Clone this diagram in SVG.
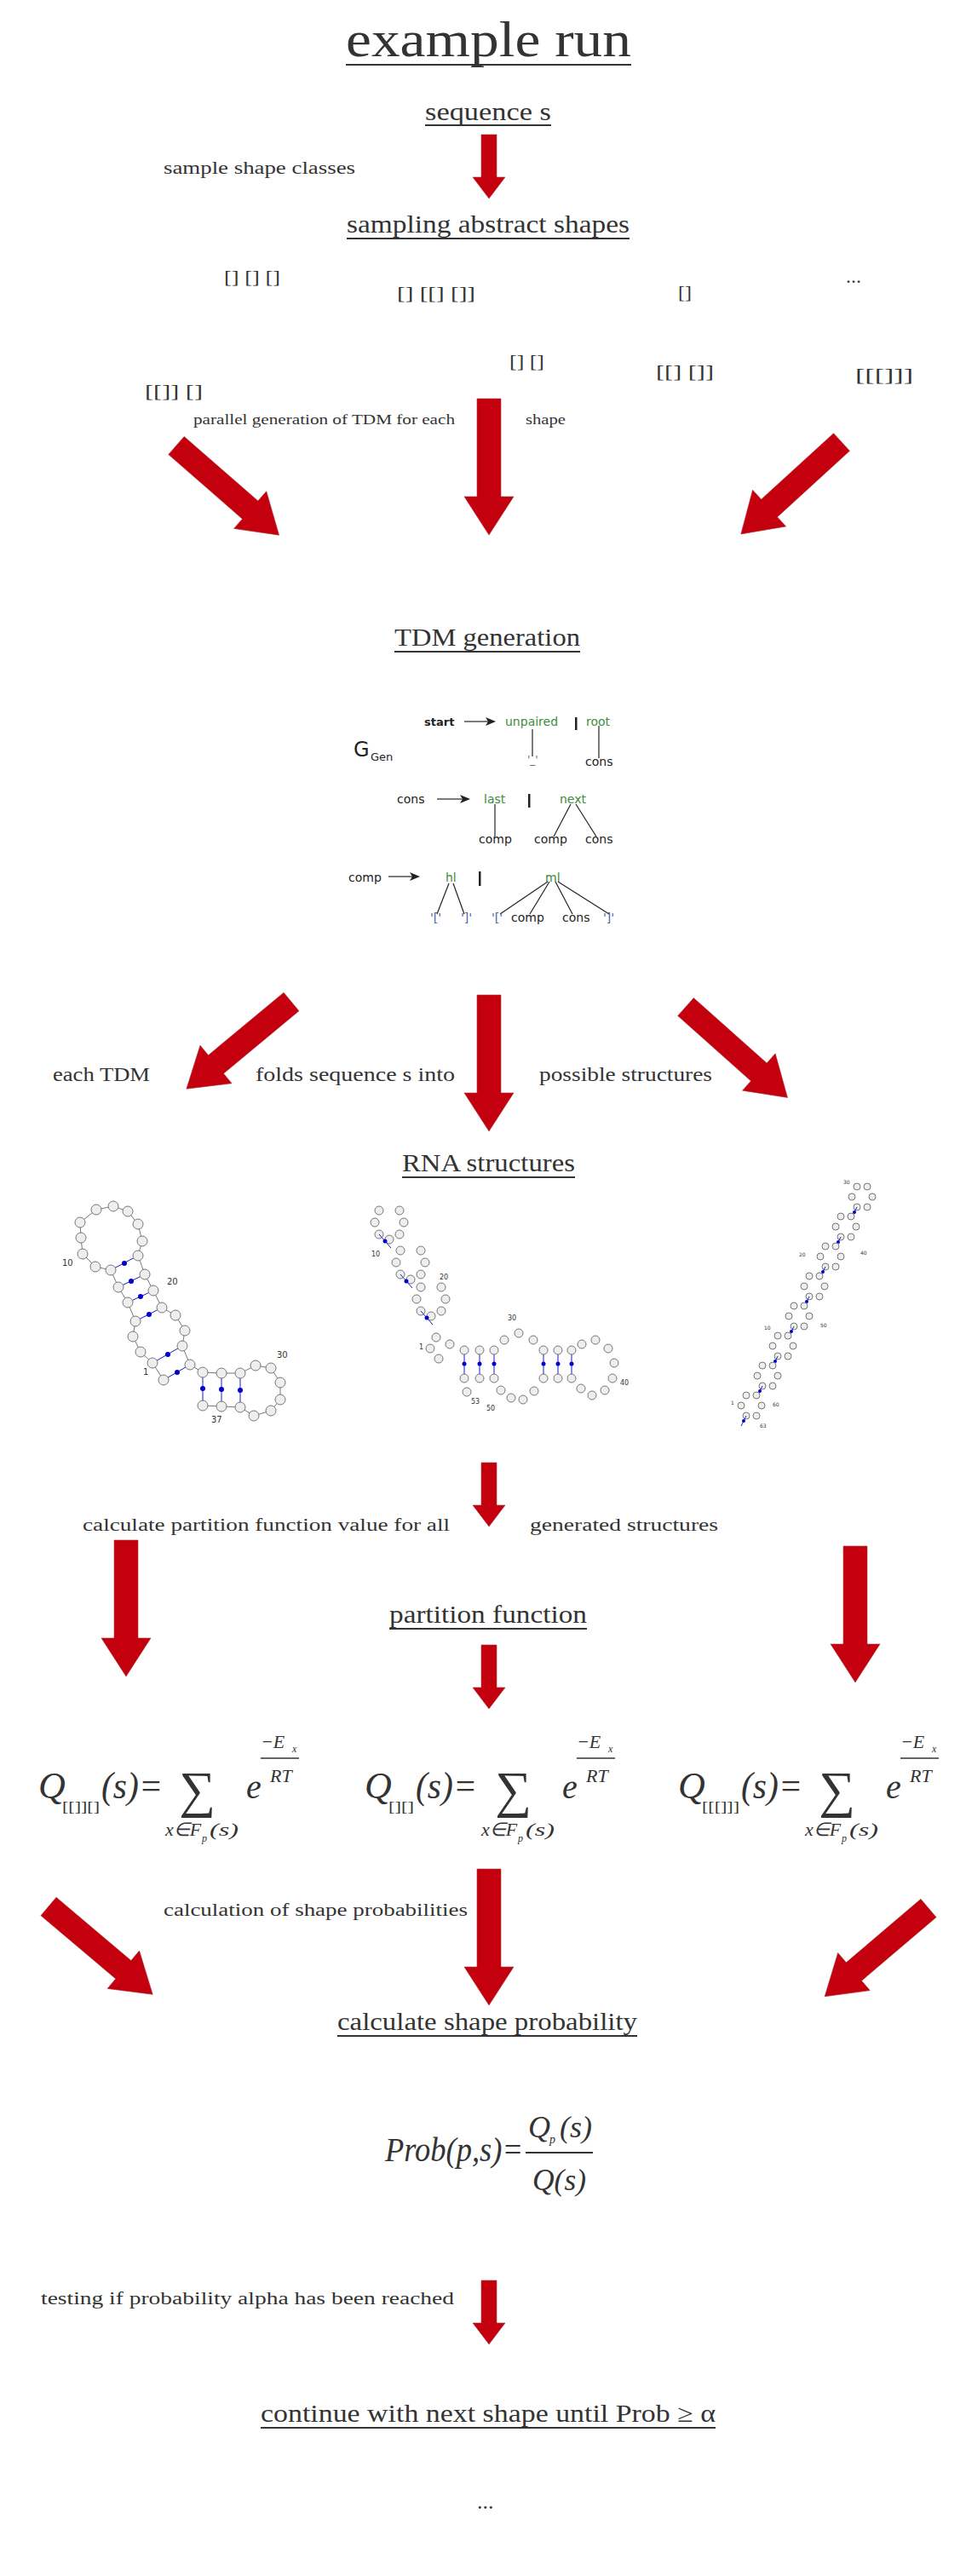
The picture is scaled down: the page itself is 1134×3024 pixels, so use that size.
<svg xmlns="http://www.w3.org/2000/svg" xmlns:xlink="http://www.w3.org/1999/xlink" width="1134" height="3024" viewBox="0 0 1134 3024">
<style>
.t{font-family:"Liberation Serif",serif;fill:#333}
.h{font-size:29px}
.s{font-size:20px}
.m{font-family:"Liberation Serif",serif;font-style:italic;fill:#333}
.ul{stroke:#333;stroke-width:2}
.ar{fill:#c4000f;stroke:#a33;stroke-width:0.6}
.g{font-family:"DejaVu Sans",sans-serif;font-size:14px;fill:#222}
.gr{fill:#3c8c3c}
.bl{fill:#5563a3}
.gl{stroke:#222;stroke-width:1.2}
.nt{fill:#eee;stroke:#777;stroke-width:1}
.bp{stroke:#1a1acc;stroke-width:1}
.bd{fill:#0000cc}
.lb{font-family:"DejaVu Sans",sans-serif;fill:#333}
</style>
<defs>
<polygon id="big" points="0,-14 115,-14 115,-29 160,0 115,29 115,14 0,14"/>
<polygon id="sm" points="0,-9 50,-9 50,-19 75,0 50,19 50,9 0,9"/>
<g id="loopR"><circle class="nt" cx="12" cy="0" r="4"/><circle class="nt" cx="6" cy="12" r="4"/><circle class="nt" cx="-6" cy="12" r="4"/><circle class="nt" cx="-12" cy="0" r="4"/><circle class="nt" cx="-6" cy="-12" r="4"/><circle class="nt" cx="6" cy="-12" r="4"/><line class="bp" x1="-6" y1="12" x2="-12" y2="24"/><circle class="bd" cx="-9" cy="18" r="2"/></g>
<g id="loopM"><circle class="nt" cx="17" cy="0" r="5"/><circle class="nt" cx="12" cy="14" r="5"/><circle class="nt" cx="0" cy="20" r="5"/><circle class="nt" cx="-12" cy="14" r="5"/><circle class="nt" cx="-17" cy="0" r="5"/><circle class="nt" cx="-12" cy="-14" r="5"/><circle class="nt" cx="12" cy="-14" r="5"/><line class="bp" x1="-12" y1="14" x2="2" y2="30"/><circle class="bd" cx="-5" cy="22" r="2.5"/></g>
<g id="fx">
<text class="m" x="0" y="2155" font-size="22" textLength="42" lengthAdjust="spacingAndGlyphs">x∈F</text>
<text class="m" x="43" y="2162" font-size="12">p</text>
<text class="m" x="52" y="2155" font-size="22" textLength="34" lengthAdjust="spacingAndGlyphs">(s)</text>
</g>
<g id="ex">
<text class="m" x="0" y="2052" font-size="22">−E</text><text class="m" x="37" y="2057" font-size="12">x</text>
<line x1="0" y1="2064" x2="45" y2="2064" stroke="#333" stroke-width="1.5"/>
<text class="m" x="11" y="2092" font-size="22">RT</text>
</g>
</defs>

<g id="title">
<text class="t" x="406" y="66" font-size="60" textLength="335" lengthAdjust="spacingAndGlyphs">example run</text>
<line class="ul" x1="406" y1="76" x2="741" y2="76" stroke-width="3"/>
</g>
<g id="seq">
<text class="t h" x="499" y="141" textLength="148" lengthAdjust="spacingAndGlyphs">sequence s</text>
<line class="ul" x1="499" y1="147" x2="647" y2="147"/>
</g>
<text class="t s" x="192" y="204" textLength="225" lengthAdjust="spacingAndGlyphs">sample shape classes</text>
<g id="sampling">
<text class="t h" x="407" y="273" textLength="332" lengthAdjust="spacingAndGlyphs">sampling abstract shapes</text>
<line class="ul" x1="407" y1="280" x2="739" y2="280"/>
</g>
<g id="shapes" class="t" font-size="20">
<text x="263" y="332" textLength="66" lengthAdjust="spacingAndGlyphs">[] [] []</text>
<text x="466" y="351" textLength="92" lengthAdjust="spacingAndGlyphs">[] [[] []]</text>
<text x="796" y="350" textLength="16" lengthAdjust="spacingAndGlyphs">[]</text>
<text x="993" y="332" font-size="24">...</text>
<text x="598" y="431" textLength="41" lengthAdjust="spacingAndGlyphs">[] []</text>
<text x="770" y="443" textLength="68" lengthAdjust="spacingAndGlyphs">[[] []]</text>
<text x="1004" y="447" textLength="68" lengthAdjust="spacingAndGlyphs">[[[]]]</text>
<text x="170" y="466" textLength="68" lengthAdjust="spacingAndGlyphs">[[]] []</text>
</g>
<text class="t" font-size="17" x="227" y="498" textLength="307" lengthAdjust="spacingAndGlyphs">parallel generation of TDM for each</text>
<text class="t" font-size="17" x="617" y="498" textLength="47" lengthAdjust="spacingAndGlyphs">shape</text>

<g id="tdm">
<text class="t h" x="463" y="758" textLength="218" lengthAdjust="spacingAndGlyphs">TDM generation</text>
<line class="ul" x1="463" y1="765" x2="681" y2="765"/>
</g>
<g id="grammar" class="g">
<text x="415" y="888" font-size="24">G</text><text x="435" y="893" font-size="13">Gen</text>
<text x="498" y="852" font-weight="bold" font-size="13">start</text>
<line class="gl" x1="545" y1="847" x2="575" y2="847"/><polygon points="582,847 570,842 573,847 570,852" fill="#222"/>
<text class="gr" x="593" y="852">unpaired</text>
<rect x="675" y="842" width="2.5" height="15" fill="#222"/>
<text class="gr" x="688" y="852">root</text>
<line class="gl" x1="625" y1="856" x2="625" y2="888"/>
<text class="bl" x="619" y="896" font-size="12">'_'</text>
<line class="gl" x1="703" y1="852" x2="703" y2="890"/>
<text x="687" y="899">cons</text>
<text x="466" y="943">cons</text>
<line class="gl" x1="513" y1="938" x2="545" y2="938"/><polygon points="552,938 540,933 543,938 540,943" fill="#222"/>
<text class="gr" x="568" y="943">last</text>
<rect x="620" y="932" width="2.5" height="16" fill="#222"/>
<text class="gr" x="657" y="943">next</text>
<line class="gl" x1="581" y1="944" x2="581" y2="982"/>
<line class="gl" x1="670" y1="944" x2="650" y2="982"/>
<line class="gl" x1="676" y1="944" x2="700" y2="982"/>
<text x="562" y="990">comp</text><text x="627" y="990">comp</text><text x="687" y="990">cons</text>
<text x="409" y="1035">comp</text>
<line class="gl" x1="456" y1="1029" x2="486" y2="1029"/><polygon points="493,1029 481,1024 484,1029 481,1034" fill="#222"/>
<text class="gr" x="523" y="1035">hl</text>
<rect x="562" y="1023" width="2.5" height="17" fill="#222"/>
<text class="gr" x="640" y="1035">ml</text>
<line class="gl" x1="527" y1="1037" x2="513" y2="1073"/>
<line class="gl" x1="532" y1="1037" x2="545" y2="1073"/>
<line class="gl" x1="643" y1="1035" x2="587" y2="1073"/>
<line class="gl" x1="645" y1="1035" x2="622" y2="1073"/>
<line class="gl" x1="652" y1="1035" x2="672" y2="1073"/>
<line class="gl" x1="655" y1="1035" x2="715" y2="1073"/>
<text class="bl" x="505" y="1082">'['</text><text class="bl" x="541" y="1082">']'</text>
<text class="bl" x="577" y="1082">'['</text><text x="600" y="1082">comp</text><text x="660" y="1082">cons</text><text class="bl" x="708" y="1082">']'</text>
</g>

<g class="t" font-size="24">
<text x="62" y="1269" textLength="114" lengthAdjust="spacingAndGlyphs">each TDM</text>
<text x="300" y="1269" textLength="234" lengthAdjust="spacingAndGlyphs">folds sequence s  into</text>
<text x="633" y="1269" textLength="203" lengthAdjust="spacingAndGlyphs">possible  structures</text>
</g>
<g id="rna">
<text class="t h" x="472" y="1375" textLength="203" lengthAdjust="spacingAndGlyphs">RNA structures</text>
<line class="ul" x1="472" y1="1382" x2="675" y2="1382"/>
</g>

<g id="rna-left">
<polyline fill="none" stroke="#777" points="130,1491 112,1487 97,1472 95,1453 94,1435 113,1420 133,1416 150,1422 162,1437 167,1457 162,1474 170,1496 180,1515 190,1535 206,1544 217,1562 214,1580 223,1602 238,1611 260,1612 282,1612 300,1603 318,1606 329,1623 329,1643 318,1656 298,1662 282,1652 260,1651 238,1650"/>
<polyline fill="none" stroke="#777" points="130,1491 139,1511 150,1529 159,1551 156,1569 165,1587 179,1600 192,1620"/>
<g class="bp"><line x1="130" y1="1491" x2="162" y2="1474"/><line x1="139" y1="1511" x2="170" y2="1496"/><line x1="150" y1="1529" x2="180" y2="1515"/><line x1="159" y1="1551" x2="190" y2="1535"/><line x1="179" y1="1600" x2="214" y2="1580"/><line x1="192" y1="1620" x2="223" y2="1602"/><line x1="238" y1="1611" x2="238" y2="1650"/><line x1="260" y1="1612" x2="260" y2="1651"/><line x1="282" y1="1612" x2="282" y2="1652"/></g>
<g class="bd"><circle cx="146" cy="1483" r="3"/><circle cx="154" cy="1504" r="3"/><circle cx="165" cy="1522" r="3"/><circle cx="175" cy="1543" r="3"/><circle cx="197" cy="1590" r="3"/><circle cx="208" cy="1611" r="3"/><circle cx="238" cy="1630" r="3"/><circle cx="260" cy="1631" r="3"/><circle cx="282" cy="1632" r="3"/></g>
<g class="nt">
<circle cx="113" cy="1420" r="6"/><circle cx="133" cy="1416" r="6"/><circle cx="150" cy="1422" r="6"/><circle cx="162" cy="1437" r="6"/><circle cx="167" cy="1457" r="6"/><circle cx="162" cy="1474" r="6"/><circle cx="94" cy="1435" r="6"/><circle cx="95" cy="1453" r="6"/><circle cx="97" cy="1472" r="6"/><circle cx="112" cy="1487" r="6"/>
<circle cx="130" cy="1491" r="6"/><circle cx="139" cy="1511" r="6"/><circle cx="150" cy="1529" r="6"/><circle cx="159" cy="1551" r="6"/>
<circle cx="170" cy="1496" r="6"/><circle cx="180" cy="1515" r="6"/><circle cx="190" cy="1535" r="6"/>
<circle cx="206" cy="1544" r="6"/><circle cx="217" cy="1562" r="6"/><circle cx="214" cy="1580" r="6"/><circle cx="156" cy="1569" r="6"/><circle cx="165" cy="1587" r="6"/>
<circle cx="179" cy="1600" r="6"/><circle cx="192" cy="1620" r="6"/><circle cx="223" cy="1602" r="6"/>
<circle cx="238" cy="1611" r="6"/><circle cx="260" cy="1612" r="6"/><circle cx="282" cy="1612" r="6"/><circle cx="300" cy="1603" r="6"/><circle cx="318" cy="1606" r="6"/><circle cx="329" cy="1623" r="6"/><circle cx="329" cy="1643" r="6"/><circle cx="318" cy="1656" r="6"/><circle cx="298" cy="1662" r="6"/><circle cx="282" cy="1652" r="6"/><circle cx="260" cy="1651" r="6"/><circle cx="238" cy="1650" r="6"/>
</g>
<g class="lb" font-size="10"><text x="73" y="1486">10</text><text x="196" y="1508">20</text><text x="325" y="1594">30</text><text x="248" y="1670">37</text><text x="168" y="1614">1</text></g>
</g>

<g id="rna-mid">
<use xlink:href="#loopM" x="457" y="1435"/>
<use xlink:href="#loopM" x="482" y="1482"/>
<use xlink:href="#loopM" x="506" y="1525"/>
<g class="bp"><line x1="545" y1="1585" x2="545" y2="1618"/><line x1="563" y1="1585" x2="563" y2="1618"/><line x1="580" y1="1585" x2="580" y2="1618"/><line x1="638" y1="1585" x2="638" y2="1618"/><line x1="655" y1="1585" x2="655" y2="1618"/><line x1="671" y1="1585" x2="671" y2="1618"/></g>
<g class="bd"><circle cx="545" cy="1601" r="2.5"/><circle cx="563" cy="1601" r="2.5"/><circle cx="580" cy="1601" r="2.5"/><circle cx="638" cy="1601" r="2.5"/><circle cx="655" cy="1601" r="2.5"/><circle cx="671" cy="1601" r="2.5"/></g>
<g class="nt">
<circle cx="512" cy="1570" r="5"/><circle cx="528" cy="1578" r="5"/><circle cx="505" cy="1583" r="5"/><circle cx="515" cy="1595" r="5"/>
<circle cx="545" cy="1585" r="5"/><circle cx="563" cy="1585" r="5"/><circle cx="580" cy="1585" r="5"/><circle cx="545" cy="1618" r="5"/><circle cx="563" cy="1618" r="5"/><circle cx="580" cy="1618" r="5"/><circle cx="548" cy="1634" r="5"/>
<circle cx="592" cy="1573" r="5"/><circle cx="609" cy="1565" r="5"/><circle cx="626" cy="1573" r="5"/><circle cx="588" cy="1632" r="5"/><circle cx="600" cy="1641" r="5"/><circle cx="614" cy="1643" r="5"/><circle cx="627" cy="1633" r="5"/>
<circle cx="638" cy="1585" r="5"/><circle cx="655" cy="1585" r="5"/><circle cx="671" cy="1585" r="5"/><circle cx="638" cy="1618" r="5"/><circle cx="655" cy="1618" r="5"/><circle cx="671" cy="1618" r="5"/>
<circle cx="683" cy="1578" r="5"/><circle cx="699" cy="1573" r="5"/><circle cx="714" cy="1583" r="5"/><circle cx="721" cy="1600" r="5"/><circle cx="719" cy="1618" r="5"/><circle cx="710" cy="1632" r="5"/><circle cx="695" cy="1638" r="5"/><circle cx="682" cy="1630" r="5"/>
</g>
<g class="lb" font-size="8"><text x="436" y="1475">10</text><text x="516" y="1502">20</text><text x="492" y="1584">1</text><text x="596" y="1550">30</text><text x="553" y="1648">53</text><text x="571" y="1656">50</text><text x="728" y="1626">40</text></g>
</g>

<g id="rna-right">
<use xlink:href="#loopR" x="1012" y="1405"/>
<use xlink:href="#loopR" x="993" y="1440"/>
<use xlink:href="#loopR" x="975" y="1475"/>
<use xlink:href="#loopR" x="956" y="1510"/>
<use xlink:href="#loopR" x="938" y="1545"/>
<use xlink:href="#loopR" x="919" y="1580"/>
<use xlink:href="#loopR" x="901" y="1615"/>
<use xlink:href="#loopR" x="882" y="1650"/>
<g class="lb" font-size="6"><text x="990" y="1390">30</text><text x="1010" y="1473">40</text><text x="938" y="1475">20</text><text x="963" y="1558">50</text><text x="897" y="1561">10</text><text x="858" y="1649">1</text><text x="907" y="1651">60</text><text x="892" y="1676">63</text></g>
</g>

<g class="t" font-size="20">
<text x="97" y="1797" textLength="431" lengthAdjust="spacingAndGlyphs">calculate partition function value for all</text>
<text x="622" y="1797" textLength="221" lengthAdjust="spacingAndGlyphs">generated structures</text>
</g>
<g id="partition">
<text class="t h" x="457" y="1905" textLength="232" lengthAdjust="spacingAndGlyphs">partition function</text>
<line class="ul" x1="457" y1="1912" x2="689" y2="1912"/>
</g>

<g id="formula1" class="m">
<text x="45" y="2111" font-size="44">Q</text>
<text x="73" y="2127" font-size="17" font-style="normal" textLength="44" lengthAdjust="spacingAndGlyphs">[[]][]</text>
<text x="119" y="2111" font-size="44" textLength="72" lengthAdjust="spacingAndGlyphs">(s)=</text>
<text x="210" y="2121" font-size="60" font-style="normal">∑</text>
<text x="289" y="2111" font-size="40">e</text>
<use xlink:href="#ex" x="306"/>
<use xlink:href="#fx" x="194"/>
</g>
<g id="formula2" class="m">
<text x="428" y="2111" font-size="44">Q</text>
<text x="456" y="2127" font-size="17" font-style="normal" textLength="30" lengthAdjust="spacingAndGlyphs">[][]</text>
<text x="488" y="2111" font-size="44" textLength="72" lengthAdjust="spacingAndGlyphs">(s)=</text>
<text x="581" y="2121" font-size="60" font-style="normal">∑</text>
<text x="660" y="2111" font-size="40">e</text>
<use xlink:href="#ex" x="677"/>
<use xlink:href="#fx" x="565"/>
</g>
<g id="formula3" class="m">
<text x="796" y="2111" font-size="44">Q</text>
<text x="824" y="2127" font-size="17" font-style="normal" textLength="44" lengthAdjust="spacingAndGlyphs">[[[]]]</text>
<text x="870" y="2111" font-size="44" textLength="72" lengthAdjust="spacingAndGlyphs">(s)=</text>
<text x="961" y="2121" font-size="60" font-style="normal">∑</text>
<text x="1040" y="2111" font-size="40">e</text>
<use xlink:href="#ex" x="1057"/>
<use xlink:href="#fx" x="945"/>
</g>

<text class="t" font-size="20" x="192" y="2249" textLength="357" lengthAdjust="spacingAndGlyphs">calculation of shape probabilities</text>
<g id="calcprob">
<text class="t h" x="396" y="2383" textLength="352" lengthAdjust="spacingAndGlyphs">calculate shape probability</text>
<line class="ul" x1="396" y1="2390" x2="748" y2="2390"/>
</g>
<g id="probformula" class="m">
<text x="452" y="2537" font-size="40" textLength="162" lengthAdjust="spacingAndGlyphs">Prob(p,s)=</text>
<text x="620" y="2509" font-size="36">Q</text><text x="645" y="2516" font-size="14">p</text><text x="657" y="2509" font-size="36" textLength="38" lengthAdjust="spacingAndGlyphs">(s)</text>
<line x1="617" y1="2527" x2="696" y2="2527" stroke="#333" stroke-width="2"/>
<text x="625" y="2571" font-size="36" textLength="63" lengthAdjust="spacingAndGlyphs">Q(s)</text>
</g>
<text class="t" font-size="20" x="48" y="2705" textLength="485" lengthAdjust="spacingAndGlyphs">testing if probability alpha has been reached</text>
<g id="continue">
<text class="t h" x="306" y="2843" textLength="534" lengthAdjust="spacingAndGlyphs">continue with next shape until Prob ≥ α</text>
<line class="ul" x1="306" y1="2850" x2="840" y2="2850"/>
</g>
<text class="t" font-size="26" x="560" y="2945">...</text>

<g id="connectors" class="ar">
<use xlink:href="#sm" transform="translate(574,158) rotate(90)"/>
<use xlink:href="#big" transform="translate(207,523) rotate(41.1)"/>
<use xlink:href="#big" transform="translate(574,468) rotate(90)"/>
<use xlink:href="#big" transform="translate(988,519) rotate(137.6)"/>
<use xlink:href="#big" transform="translate(342,1176) rotate(140.3)"/>
<use xlink:href="#big" transform="translate(574,1168) rotate(90)"/>
<use xlink:href="#big" transform="translate(805,1182) rotate(41.7)"/>
<use xlink:href="#sm" transform="translate(574,1717) rotate(90)"/>
<use xlink:href="#big" transform="translate(148,1808) rotate(90)"/>
<use xlink:href="#big" transform="translate(1004,1815) rotate(90)"/>
<use xlink:href="#sm" transform="translate(574,1931) rotate(90)"/>
<use xlink:href="#big" transform="translate(57,2238) rotate(40.2)"/>
<use xlink:href="#big" transform="translate(574,2194) rotate(90)"/>
<use xlink:href="#big" transform="translate(1090,2240) rotate(139.6)"/>
<use xlink:href="#sm" transform="translate(574,2677) rotate(90)"/>
</g>
</svg>
